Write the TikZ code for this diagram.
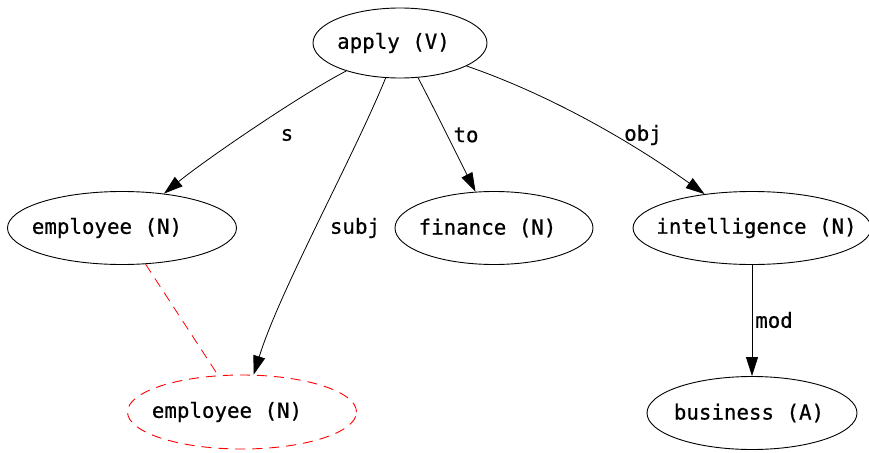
\documentclass[tikz,border=0pt]{standalone}
\usepackage{fontspec}
\newfontfamily\gvfont[FakeBold=0.6]{DejaVu Sans Mono}
\usetikzlibrary{shapes.geometric,arrows.meta}
\newcommand\gvt[2]{\makebox[0pt]{\hspace*{#1}#2}}
\begin{document}
\begin{tikzpicture}[x=1pt,y=-1pt,
  font=\gvfont\fontsize{20.8}{24}\selectfont,
  nd/.style={ellipse,draw,line width=0.9pt,inner sep=0pt},
  ghost/.style={nd,draw=red,dash pattern=on 10pt off 7pt},
  edge/.style={line width=0.8pt,-{Triangle[length=19pt,width=12pt]}},
  lbl/.style={inner sep=0pt}]
\useasboundingbox (0,0) rectangle (869,452);
\node[nd,minimum width=174pt,minimum height=70pt] (apply) at (400,43) {\gvt{-13pt}{apply (V)}};
\node[nd,minimum width=229pt,minimum height=73pt] (emp1) at (122,228) {\gvt{-30pt}{employee (N)}};
\node[nd,minimum width=198pt,minimum height=73pt] (fin) at (494,228) {\gvt{-13pt}{finance (N)}};
\node[nd,minimum width=238pt,minimum height=73pt] (int) at (752,228) {\gvt{9pt}{intelligence (N)}};
\node[ghost,minimum width=229pt,minimum height=74pt] (emp2) at (242,412) {\gvt{-30pt}{employee (N)}};
\node[nd,minimum width=210pt,minimum height=73pt] (bus) at (752,413) {\gvt{-6pt}{business (A)}};

\draw[edge] (apply) .. controls (300,95) and (205,160) .. (emp1);
\draw[edge] (apply) .. controls (352,160) and (280,290) .. (emp2);
\draw[edge] (apply) .. controls (440,120) and (462,165) .. (fin);
\draw[edge] (apply) .. controls (565,100) and (650,155) .. (int);
\draw[edge] (int) -- (bus);
\draw[red,line width=0.8pt,dash pattern=on 10pt off 7pt] (emp1) -- (emp2);

\node[lbl] (ls) at (287,135) {s};
\node[lbl] (lsubj) at (355,228) {subj};
\node[lbl] (lto) at (466,135) {to};
\node[lbl] (lobj) at (643,135) {obj};
\node[lbl] (lmod) at (774,320) {mod};
\end{tikzpicture}
\end{document}
